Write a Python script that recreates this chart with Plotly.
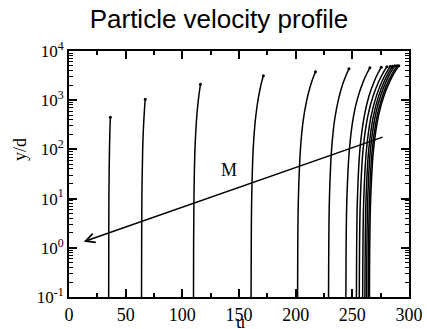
import numpy as np
import plotly.graph_objects as go

# ---- data ----
y_c1 = [0.1, 1, 10, 45, 112, 225, 340, 450]
u_c1 = [35.0, 35.1, 35.2, 35.5, 35.75, 36.05, 36.3, 36.5]
y_c2 = [0.1, 1, 10, 100, 262, 525, 790, 1050]
u_c2 = [64.0, 64.1, 64.3, 65.0, 65.65, 66.35, 66.85, 67.3]
y_c3 = [0.1, 1, 10, 100, 525, 1050, 1575, 2100]
u_c3 = [109.85, 109.95, 110.25, 111.15, 112.9, 114.2, 115.2, 116.0]
y_c4 = [0.1, 1, 10, 100, 315, 790, 1575, 2360, 3150]
u_c4 = [160.65, 160.8, 161.2, 162.5, 164.0, 166.05, 168.3, 170.0, 171.5]
y_c5 = [0.1, 1, 10, 100, 380, 950, 1900, 2850, 3800]
u_c5 = [201.7, 201.85, 202.4, 204.2, 206.6, 209.55, 212.85, 215.4, 217.5]
y_c6 = [0.1, 1, 10, 100, 435, 1090, 2175, 3260, 4350]
u_c6 = [229.0, 229.2, 229.8, 231.7, 234.6, 238.0, 241.7, 244.6, 247.0]
y_c7 = [0.1, 1, 10, 100, 455, 1140, 2275, 3410, 4550]
u_c7 = [244.3, 244.5, 245.2, 247.4, 250.9, 254.85, 259.3, 262.6, 265.5]
y_c8 = [0.1, 1, 10, 100, 470, 1175, 2350, 3525, 4700]
u_c8 = [253.6, 253.8, 254.5, 256.7, 260.5, 264.5, 269.1, 272.6, 275.5]
y_c9 = [0.1, 1, 10, 100, 480, 1200, 2400, 3600, 4800]
u_c9 = [256.1, 256.35, 257.1, 259.5, 263.7, 268.25, 273.3, 277.2, 280.5]
y_c10 = [0.1, 1, 10, 100, 490, 1225, 2450, 3675, 4900]
u_c10 = [259.1, 259.35, 260.1, 262.5, 266.7, 271.25, 276.3, 280.2, 283.5]
y_c11 = [0.1, 1, 10, 100, 490, 1225, 2450, 3675, 4900]
u_c11 = [261.1, 261.35, 262.1, 264.5, 268.7, 273.25, 278.3, 282.2, 285.5]
y_c12 = [0.1, 1, 10, 100, 500, 1250, 2500, 3750, 5000]
u_c12 = [262.6, 262.85, 263.6, 266.0, 270.4, 275.0, 280.2, 284.15, 287.5]
y_c13 = [0.1, 1, 10, 100, 500, 1250, 2500, 3750, 5000]
u_c13 = [264.1, 264.35, 265.1, 267.6, 272.05, 276.75, 282.0, 286.1, 289.5]
y_c14 = [0.1, 1, 10, 100, 500, 1250, 2500, 3750, 5000]
u_c14 = [265.1, 265.35, 266.2, 268.7, 273.2, 278.0, 283.4, 287.5, 291.0]

arrow_u = [278, 13]        # tail, head
arrow_y = [182, 1.33]
label_m = ("M", 141.5, 38)

x_ticks = [0, 50, 100, 150, 200, 250, 300]
y_ticks = [0.1, 1, 10, 100, 1000, 10000]
y_ticktext = ["10<sup>-1</sup>", "10<sup>0</sup>", "10<sup>1</sup>",
              "10<sup>2</sup>", "10<sup>3</sup>", "10<sup>4</sup>"]

curves = [(u_c1, y_c1), (u_c2, y_c2), (u_c3, y_c3), (u_c4, y_c4), (u_c5, y_c5),
          (u_c6, y_c6), (u_c7, y_c7), (u_c8, y_c8), (u_c9, y_c9), (u_c10, y_c10),
          (u_c11, y_c11), (u_c12, y_c12), (u_c13, y_c13), (u_c14, y_c14)]

W, H = 427, 329
L, R, T, B = 69, 18, 51, 32
pw, ph = W - L - R, H - T - B
serif = "Liberation Serif"

fig = go.Figure()
for u, y in curves:
    fig.add_trace(go.Scatter(x=u, y=y, mode="lines",
                             line=dict(color="black", width=1.5, shape="spline", smoothing=1),
                             showlegend=False, hoverinfo="skip"))
# small end dots at the top of each profile
fig.add_trace(go.Scatter(x=[u[-1] for u, _ in curves], y=[y[-1] for _, y in curves],
                         mode="markers", marker=dict(color="black", size=3),
                         showlegend=False, hoverinfo="skip"))

minor_y = [m * 10.0 ** e for e in range(-1, 4) for m in range(2, 10)]

fig.add_annotation(x=arrow_u[1], y=np.log10(arrow_y[1]), ax=arrow_u[0], ay=np.log10(arrow_y[0]),
                   xref="x", yref="y", axref="x", ayref="y", text="", showarrow=True,
                   arrowhead=5, arrowsize=1.2, arrowwidth=1.5, arrowcolor="black")
fig.add_annotation(x=label_m[1], y=np.log10(label_m[2]), xref="x", yref="y", text=label_m[0],
                   showarrow=False, font=dict(family=serif, size=18, color="black"))
# axis titles (placed in paper coordinates from pixel positions)
fig.add_annotation(x=(240 - L) / pw, y=(H - B - 322) / ph, xref="paper", yref="paper",
                   xanchor="center", yanchor="middle", text="u", showarrow=False,
                   font=dict(family=serif, size=18, color="black"))
fig.add_annotation(x=(20 - L) / pw, y=(H - B - 150) / ph, xref="paper", yref="paper",
                   xanchor="center", yanchor="middle", text="y/d", showarrow=False,
                   textangle=-90, font=dict(family=serif, size=18, color="black"))

fig.update_layout(
    width=W, height=H,
    margin=dict(l=L, r=R, t=T, b=B),
    paper_bgcolor="white", plot_bgcolor="white",
    title=dict(text="Particle velocity profile", x=219 / W, y=1 - 19 / H,
               xanchor="center", yanchor="middle", xref="container", yref="container",
               font=dict(family="Liberation Sans", size=26, color="black")),
    xaxis=dict(range=[0, 300], tickvals=x_ticks, ticks="inside", ticklen=8, tickwidth=1.5,
               tickcolor="black", showline=True, linewidth=2, linecolor="black", mirror="ticks",
               showgrid=False, zeroline=False, automargin=False,
               tickfont=dict(family=serif, size=18, color="black"),
               minor=dict(dtick=25, tick0=0, ticks="inside", ticklen=4, tickwidth=1.5,
                          tickcolor="black", showgrid=False)),
    yaxis=dict(type="log", range=[-1, 4], tickvals=y_ticks, ticktext=y_ticktext,
               ticks="inside", ticklen=8, tickwidth=1.5, tickcolor="black",
               showline=True, linewidth=2, linecolor="black", mirror="ticks",
               showgrid=False, zeroline=False, automargin=False,
               tickfont=dict(family=serif, size=17, color="black"),
               minor=dict(tickmode="array", tickvals=minor_y, ticks="inside", ticklen=4,
                          tickwidth=1, tickcolor="black", showgrid=False)),
)

fig.write_html("out.html")
